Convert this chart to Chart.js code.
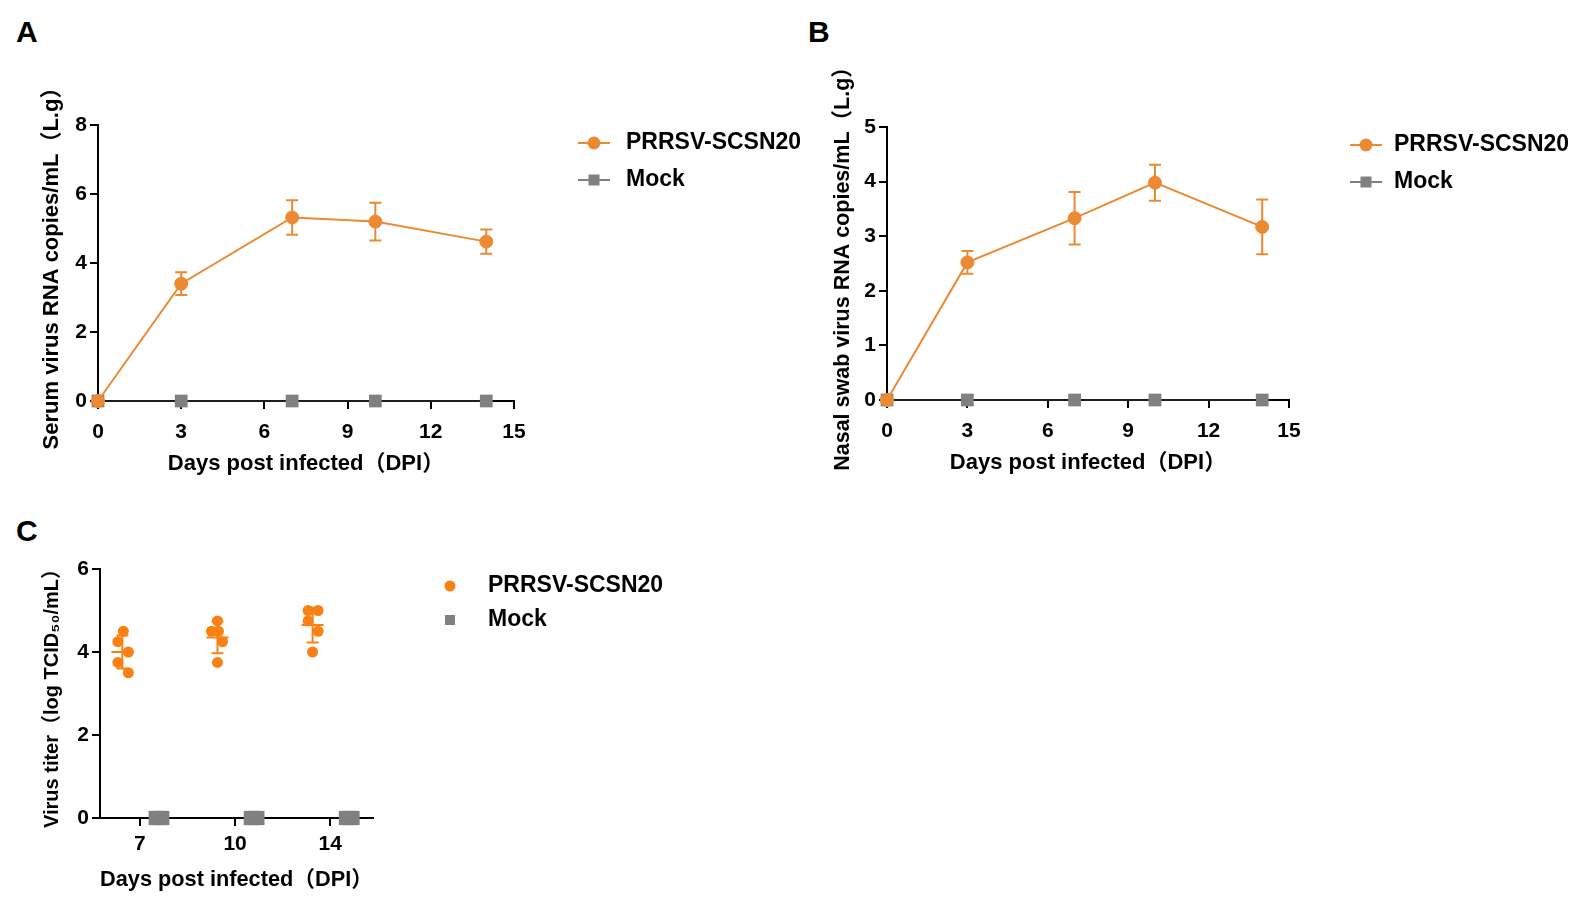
<!DOCTYPE html>
<html>
<head>
<meta charset="utf-8">
<script src="https://cdn.jsdelivr.net/npm/chart.js@4.4.1/dist/chart.umd.min.js"></script>
<style>
  body { margin: 0; background: #fff; width: 1571px; height: 900px; position: relative; overflow: hidden;
         font-family: 'Liberation Sans', Arial, 'Noto Sans CJK SC', sans-serif; }
  .panel { position: absolute; }
  .letter { position: absolute; font-weight: bold; font-size: 30px; color: #000; }
</style>
</head>
<body>
<div class="letter" style="left:16px;top:15px">A</div>
<div class="letter" style="left:808px;top:15px">B</div>
<div class="letter" style="left:16px;top:514px">C</div>

<div class="panel" style="left:0;top:60px;width:840px;height:430px"><canvas id="serumChart"></canvas></div>
<div class="panel" style="left:800px;top:40px;width:771px;height:450px"><canvas id="nasalChart"></canvas></div>
<div class="panel" style="left:0;top:540px;width:720px;height:360px"><canvas id="titerChart"></canvas></div>

<script>
// data
const days = [0, 3, 7, 10, 14];
const serumMean = [0, 3.4, 5.32, 5.2, 4.62];
const serumSd = [0, 0.33, 0.5, 0.55, 0.35];
const nasalMean = [0, 2.52, 3.33, 3.98, 3.17];
const nasalSd = [0, 0.21, 0.48, 0.33, 0.5];
const mockLevels = [0, 0, 0, 0, 0];

const titerDays = ["7", "10", "14"];
const titerValues = [
  [4.5, 4.25, 4.0, 3.75, 3.5],
  [4.75, 4.5, 4.5, 4.25, 3.75],
  [5.0, 5.0, 4.75, 4.5, 4.0],
];
const mockTiter = [
  [0, 0, 0, 0, 0],
  [0, 0, 0, 0, 0],
  [0, 0, 0, 0, 0],
];

// styling
const ORANGE = "#EC8A33";
const ORANGE_DOT = "#F98013";
const GRAY = "#808080";
const FONT = "'Liberation Sans', Arial, 'Noto Sans CJK SC', sans-serif";
// dot-plot horizontal spread (in category units)
const prrsvShift = -0.185;
const mockShift = 0.2;
const prrsvJitter = [
  [0.01, -0.047, 0.063, -0.047, 0.063],
  [0, -0.063, 0.01, 0.053, 0],
  [-0.047, 0.058, -0.047, 0.058, 0],
];
const mockJitter = [-0.035, -0.018, 0, 0.018, 0.035];

Chart.defaults.font.family = FONT;
Chart.defaults.color = "#000";
Chart.defaults.animation = false;

const mean = (arr) => arr.reduce((a, b) => a + b, 0) / arr.length;
const sd = (arr) => {
  const m = mean(arr);
  return Math.sqrt(arr.reduce((a, b) => a + (b - m) * (b - m), 0) / (arr.length - 1));
};

// vertical error bars with caps
const errorBars = {
  id: "errorBars",
  beforeDatasetsDraw(chart) {
    const { ctx } = chart;
    const yScale = chart.scales.y;
    chart.data.datasets.forEach((ds, i) => {
      if (!ds.errors) return;
      const meta = chart.getDatasetMeta(i);
      ctx.save();
      ctx.strokeStyle = ds.borderColor;
      ctx.lineWidth = 2;
      meta.data.forEach((pt, j) => {
        const err = ds.errors[j];
        if (!err) return;
        const v = ds.data[j].y;
        const top = yScale.getPixelForValue(v + err);
        const bot = yScale.getPixelForValue(v - err);
        const w = ds.capHalf;
        ctx.beginPath();
        ctx.moveTo(pt.x, top);
        ctx.lineTo(pt.x, bot);
        ctx.moveTo(pt.x - w, top);
        ctx.lineTo(pt.x + w, top);
        ctx.moveTo(pt.x - w, bot);
        ctx.lineTo(pt.x + w, bot);
        ctx.stroke();
      });
      ctx.restore();
    });
  },
};

// legend to the right of the plot, GraphPad style
const sideLegend = {
  id: "sideLegend",
  afterDraw(chart, args, opts) {
    const { ctx, chartArea } = chart;
    ctx.save();
    ctx.font = "bold " + opts.fontSize + "px " + FONT;
    ctx.textBaseline = "middle";
    let rowY = chartArea.top + opts.top;
    chart.data.datasets.forEach((ds) => {
      if (ds.legendHidden) return;
      const x0 = chartArea.right + opts.left;
      const cx = x0 + opts.lineLength / 2;
      if (opts.lineLength > 0) {
        ctx.strokeStyle = ds.legendColor || ds.borderColor;
        ctx.lineWidth = 2;
        ctx.beginPath();
        ctx.moveTo(x0, rowY);
        ctx.lineTo(x0 + opts.lineLength, rowY);
        ctx.stroke();
      }
      ctx.fillStyle = ds.backgroundColor;
      if (ds.pointStyle === "rect") {
        const s = opts.squareSize;
        ctx.fillRect(cx - s / 2, rowY - s / 2, s, s);
      } else {
        ctx.beginPath();
        ctx.arc(cx, rowY, opts.dotRadius, 0, Math.PI * 2);
        ctx.fill();
      }
      ctx.fillStyle = "#000";
      ctx.fillText(ds.label, x0 + opts.textOffset, rowY);
      rowY += opts.rowGap;
    });
    ctx.restore();
  },
};

function axis(o) {
  return {
    type: "linear",
    min: o.min,
    max: o.max,
    afterBuildTicks: o.buildTicks,
    ticks: {
      stepSize: o.step,
      padding: o.tickPad,
      color: "#000",
      font: { size: 21, weight: "bold" },
      callback: o.label || ((v) => v),
    },
    border: { color: "#000", width: 2 },
    grid: { drawOnChartArea: false, color: "#000", lineWidth: 2, tickLength: 8 },
    title: {
      display: true,
      text: o.title,
      color: "#000",
      font: { size: o.titleSize || 22, weight: "bold" },
      padding: { top: 4, bottom: 4 },
    },
    afterFit: o.fit,
  };
}

function lineChart(id, values, errors, yMax, yStep, yTitle, yTitleSize, pad, yWidth, legend) {
  return new Chart(document.getElementById(id), {
    type: "line",
    data: {
      datasets: [
        {
          label: "PRRSV-SCSN20",
          data: days.map((d, i) => ({ x: d, y: values[i] })),
          errors: errors,
          capHalf: 6,
          borderColor: ORANGE,
          backgroundColor: ORANGE,
          borderWidth: 2,
          pointRadius: 6.5,
          pointHoverRadius: 6.5,
          pointBorderWidth: 1,
          tension: 0,
          clip: false,
        },
        {
          label: "Mock",
          data: days.map((d, i) => ({ x: d, y: mockLevels[i] })),
          borderColor: "#1e1e1e",
          legendColor: GRAY,
          backgroundColor: GRAY,
          borderWidth: 2,
          pointStyle: "rect",
          pointRadius: 9,
          pointHoverRadius: 9,
          pointBorderWidth: 0,
          tension: 0,
          clip: false,
        },
      ],
    },
    options: {
      responsive: true,
      maintainAspectRatio: false,
      events: [],
      layout: { padding: pad },
      scales: {
        x: axis({ min: 0, max: 15, step: 3, tickPad: 11, title: "Days post infected（DPI）",
                  fit: (s) => { s.height = 80; } }),
        y: axis({ min: 0, max: yMax, step: yStep, tickPad: 3, title: yTitle, titleSize: yTitleSize,
                  fit: (s) => { s.width = yWidth; } }),
      },
      plugins: {
        legend: { display: false },
        tooltip: { enabled: false },
        sideLegend: legend,
      },
    },
    plugins: [errorBars, sideLegend],
  });
}

lineChart("serumChart", serumMean, serumSd, 8, 2, "Serum virus RNA copies/mL（L.g）", 22,
  { left: 35, top: 65, right: 326, bottom: 9 }, 63,
  { fontSize: 23, left: 64, lineLength: 32, textOffset: 48, top: 18, rowGap: 37, dotRadius: 6.5, squareSize: 11 });

lineChart("nasalChart", nasalMean, nasalSd, 5, 1, "Nasal swab virus RNA copies/mL（L.g）", 21.5,
  { left: 26, top: 87, right: 282, bottom: 10 }, 61,
  { fontSize: 23, left: 61, lineLength: 32, textOffset: 44, top: 18, rowGap: 37, dotRadius: 6.5, squareSize: 11 });

// C: dot plot with mean ± SD
const prrsvPoints = [];
titerValues.forEach((vals, g) => {
  vals.forEach((v, j) => prrsvPoints.push({ x: g + prrsvShift + prrsvJitter[g][j], y: v }));
});
const mockPoints = [];
mockTiter.forEach((vals, g) => {
  vals.forEach((v, j) => mockPoints.push({ x: g + mockShift + mockJitter[j], y: v }));
});
const meanPoints = titerValues.map((vals, g) => ({ x: g + prrsvShift, y: mean(vals) }));
const sdValues = titerValues.map(sd);

new Chart(document.getElementById("titerChart"), {
  type: "scatter",
  data: {
    datasets: [
      {
        label: "PRRSV-SCSN20",
        data: prrsvPoints,
        backgroundColor: ORANGE_DOT,
        borderColor: ORANGE_DOT,
        pointRadius: 5.5,
        pointHoverRadius: 5.5,
        pointBorderWidth: 0,
        clip: false,
      },
      {
        label: "mean",
        legendHidden: true,
        data: meanPoints,
        errors: sdValues,
        capHalf: 6,
        pointStyle: "line",
        borderColor: ORANGE_DOT,
        backgroundColor: ORANGE_DOT,
        pointRadius: 11,
        pointHoverRadius: 11,
        pointBorderWidth: 2,
        clip: false,
      },
      {
        label: "Mock",
        data: mockPoints,
        pointStyle: "rect",
        backgroundColor: GRAY,
        borderColor: GRAY,
        pointRadius: 10,
        pointHoverRadius: 10,
        pointBorderWidth: 0,
        clip: false,
      },
    ],
  },
  options: {
    responsive: true,
    maintainAspectRatio: false,
    events: [],
    layout: { padding: { left: 36, top: 29, right: 347, bottom: 3 } },
    scales: {
      x: axis({
        min: -0.42, max: 2.45, tickPad: 6, title: "Days post infected（DPI）",
        buildTicks: (s) => { s.ticks = titerDays.map((_, i) => ({ value: i })); },
        label: (v) => titerDays[v],
        fit: (s) => { s.height = 79; },
      }),
      y: axis({ min: 0, max: 6, step: 2, tickPad: 3, title: "Virus titer（log TCID₅₀/mL）", titleSize: 20,
                fit: (s) => { s.width = 64; } }),
    },
    plugins: {
      legend: { display: false },
      tooltip: { enabled: false },
      sideLegend: { fontSize: 23, left: 77, lineLength: 0, textOffset: 38, top: 17, rowGap: 34, dotRadius: 5.5, squareSize: 10 },
    },
  },
  plugins: [errorBars, sideLegend],
});
</script>
</body>
</html>
